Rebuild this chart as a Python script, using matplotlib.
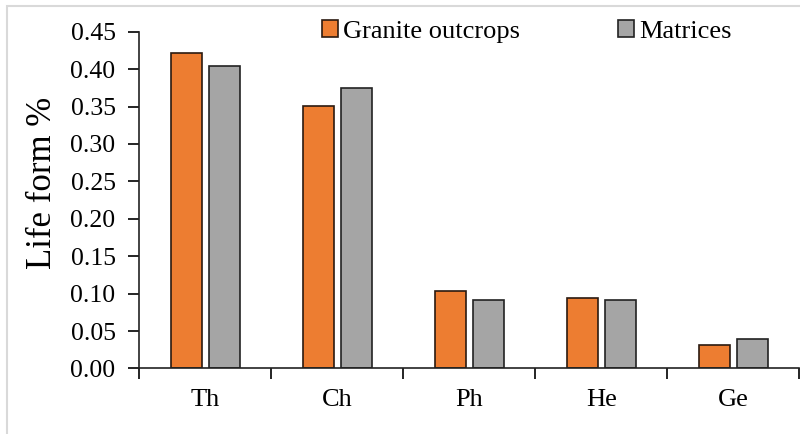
import numpy as np
import matplotlib.pyplot as plt
from matplotlib.patches import Rectangle

# Life form spectrum for the two habitats
categorias = ["Th", "Ch", "Ph", "He", "Ge"]
granito = [0.422, 0.351, 0.103, 0.094, 0.032]
matrices = [0.404, 0.375, 0.092, 0.092, 0.040]

plt.rcParams['font.family'] = ['Liberation Serif', 'DejaVu Serif']

fig = plt.figure(figsize=(8, 4.34), dpi=100)
ax = fig.add_axes([0.174, 0.151, 0.825, 0.776])

# Marco gris claro alrededor de la figura
fig.patches.append(Rectangle((7 / 800, -0.1), 1.2, 1 - 6 / 434 + 0.1,
                             transform=fig.transFigure, fill=False,
                             edgecolor='#d9d9d9', linewidth=1.5))

x = np.arange(len(categorias))
ancho = 0.235
sep = 0.025
ax.bar(x - ancho / 2 - sep, granito, ancho, color='#ED7D31',
       edgecolor='#2b1a10', linewidth=1.2, label='Granite outcrops')
ax.bar(x + ancho / 2 + sep, matrices, ancho, color='#A5A5A5',
       edgecolor='#222222', linewidth=1.2, label='Matrices')

ax.set_xlim(-0.5, len(categorias) - 0.5)
ax.set_ylim(0, 0.45)
ax.set_yticks(np.arange(0, 0.451, 0.05))
ax.set_yticklabels([f"{v:.2f}" for v in np.arange(0, 0.451, 0.05)])
ax.set_xticks(x)
ax.set_xticklabels(categorias)
ax.set_xticks(np.arange(-0.5, len(categorias)), minor=True)
ax.tick_params(axis='x', which='major', length=0, pad=15, labelsize=19)
ax.tick_params(axis='x', which='minor', length=8, width=1.2, direction='out')
ax.tick_params(axis='y', length=8, width=1.2, labelsize=18.5, pad=9)

for lado in ['top', 'right']:
    ax.spines[lado].set_visible(False)
for lado in ['left', 'bottom']:
    ax.spines[lado].set_linewidth(1.2)
    ax.spines[lado].set_color('#222222')

ax.set_ylabel("Life form %", fontsize=25)
ax.yaxis.set_label_coords(-0.122, 0.55)

ax.legend(loc='center', bbox_to_anchor=(0.587, 1.0), ncol=2,
          frameon=False, fontsize=19, handlelength=0.6, handleheight=0.6,
          handletextpad=0.2, columnspacing=3.7, borderaxespad=0,
          borderpad=0)

fig.savefig("out.png", dpi=100)
